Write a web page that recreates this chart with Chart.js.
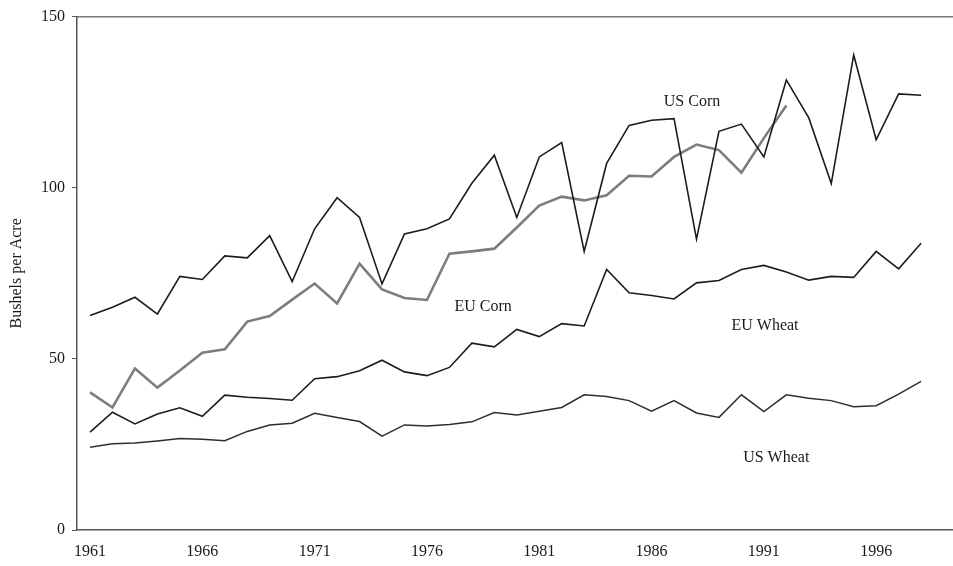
<!DOCTYPE html>
<html>
<head>
<meta charset="utf-8">
<script src="https://cdn.jsdelivr.net/npm/chart.js@4/dist/chart.umd.min.js"></script>
<style>
  html, body { margin: 0; padding: 0; background: #fff; }
  #wrap { width: 953px; height: 566px; }
</style>
</head>
<body>
<div id="wrap"><canvas id="yieldChart" width="953" height="566"></canvas></div>
<script>
// years 1961 - 1998
var years = [];
for (var yr = 1961; yr <= 1998; yr++) years.push(yr);

// bushels per acre
var usCorn = [62.7, 65.1, 68.0, 63.1, 74.1, 73.2, 80.1, 79.5, 86.0, 72.6,
              88.0, 97.1, 91.3, 71.9, 86.5, 88.0, 90.9, 101.3, 109.5, 91.3,
              109.0, 113.2, 81.4, 107.1, 118.2, 119.7, 120.2, 85.0, 116.5, 118.6,
              109.0, 131.5, 120.4, 101.2, 138.8, 114.0, 127.4, 127.0];
// EU corn stops in 1992
var euCorn = [40.2, 35.8, 47.2, 41.6, 46.6, 51.8, 52.8, 60.9, 62.5, 67.3,
              72.0, 66.2, 77.8, 70.3, 67.8, 67.2, 80.7, 81.4, 82.2, 88.4,
              94.8, 97.4, 96.3, 97.8, 103.5, 103.3, 109.0, 112.6, 111.0, 104.4,
              114.5, 124.0];
var euWheat = [28.6, 34.4, 31.0, 33.9, 35.7, 33.2, 39.4, 38.8, 38.4, 37.9,
               44.2, 44.8, 46.5, 49.6, 46.2, 45.1, 47.5, 54.6, 53.5, 58.6,
               56.5, 60.3, 59.6, 76.1, 69.3, 68.5, 67.5, 72.2, 72.9, 76.1,
               77.3, 75.4, 73.0, 74.1, 73.8, 81.4, 76.3, 83.8];
var usWheat = [24.2, 25.2, 25.4, 26.0, 26.7, 26.5, 26.1, 28.8, 30.7, 31.2,
               34.1, 32.9, 31.7, 27.4, 30.7, 30.4, 30.8, 31.6, 34.3, 33.6,
               34.7, 35.8, 39.5, 39.0, 37.8, 34.7, 37.8, 34.2, 32.9, 39.5,
               34.6, 39.5, 38.5, 37.8, 36.0, 36.3, 39.7, 43.4];

var yTicks = [0, 50, 100, 150];
var xTicks = [1961, 1966, 1971, 1976, 1981, 1986, 1991, 1996];

// series names written on the plot, anchored in data units
var seriesLabels = [
  { text: 'US Corn',  x: 1987.8, y: 125.0 },
  { text: 'EU Corn',  x: 1978.5, y: 65.1 },
  { text: 'EU Wheat', x: 1991.05, y: 59.6 },
  { text: 'US Wheat', x: 1991.55, y: 21.2 }
];

function toPoints(vals) {
  return vals.map(function (v, i) { return { x: years[i], y: v }; });
}

var serif = "'Liberation Serif', 'Times New Roman', serif";
var xMin = 1960.42, xMax = 1999.42;

var labelPlugin = {
  id: 'seriesLabels',
  afterDatasetsDraw: function (chart) {
    var ctx = chart.ctx;
    var xs = chart.scales.x, ys = chart.scales.y;
    ctx.save();
    ctx.font = '16px ' + serif;
    ctx.fillStyle = '#1a1a1a';
    ctx.textAlign = 'center';
    ctx.textBaseline = 'middle';
    seriesLabels.forEach(function (l) {
      ctx.fillText(l.text, xs.getPixelForValue(l.x), ys.getPixelForValue(l.y));
    });
    ctx.restore();
  }
};

var ctx = document.getElementById('yieldChart').getContext('2d');
var yieldChart = new Chart(ctx, {
  type: 'line',
  data: {
    datasets: [
      { label: 'US Corn', data: toPoints(usCorn), borderColor: '#1c1c1c', borderWidth: 1.6 },
      { label: 'EU Corn', data: toPoints(euCorn), borderColor: '#7d7d7d', borderWidth: 2.6 },
      { label: 'EU Wheat', data: toPoints(euWheat), borderColor: '#1c1c1c', borderWidth: 1.6 },
      { label: 'US Wheat', data: toPoints(usWheat), borderColor: '#2e2e2e', borderWidth: 1.5 }
    ]
  },
  options: {
    responsive: false,
    animation: false,
    events: [],
    elements: {
      point: { radius: 0 },
      line: { tension: 0, fill: false }
    },
    layout: { padding: { top: 14, right: 0, bottom: 0, left: 0 } },
    plugins: {
      legend: { display: false },
      tooltip: { enabled: false }
    },
    scales: {
      x: {
        type: 'linear',
        min: xMin,
        max: xMax,
        afterBuildTicks: function (scale) {
          scale.ticks = xTicks.map(function (v) { return { value: v }; });
        },
        afterFit: function (scale) { scale.height = 36; },
        grid: { display: true, drawOnChartArea: false, drawTicks: false },
        border: { display: true, color: '#555', width: 1.5 },
        ticks: {
          padding: 12,
          maxRotation: 0,
          autoSkip: false,
          color: '#1a1a1a',
          font: { family: serif, size: 16 },
          callback: function (v) { return String(v); }
        }
      },
      xTop: {
        type: 'linear',
        position: 'top',
        min: xMin,
        max: xMax,
        afterFit: function (scale) { scale.height = 0; },
        grid: { display: false },
        border: { display: true, color: '#777', width: 1.5 },
        ticks: { display: false }
      },
      y: {
        min: 0,
        max: 150,
        afterBuildTicks: function (scale) {
          scale.ticks = yTicks.map(function (v) { return { value: v }; });
        },
        afterFit: function (scale) { scale.width = 77; },
        grid: { display: true, drawOnChartArea: false, drawTicks: true, tickLength: 5, color: '#555' },
        border: { display: true, color: '#555', width: 1.5 },
        ticks: {
          padding: 7,
          color: '#1a1a1a',
          font: { family: serif, size: 16 }
        },
        title: {
          display: true,
          text: 'Bushels per Acre',
          color: '#1a1a1a',
          font: { family: serif, size: 16 },
          padding: { top: 7, bottom: 0 }
        }
      }
    }
  },
  plugins: [labelPlugin]
});
</script>
</body>
</html>
